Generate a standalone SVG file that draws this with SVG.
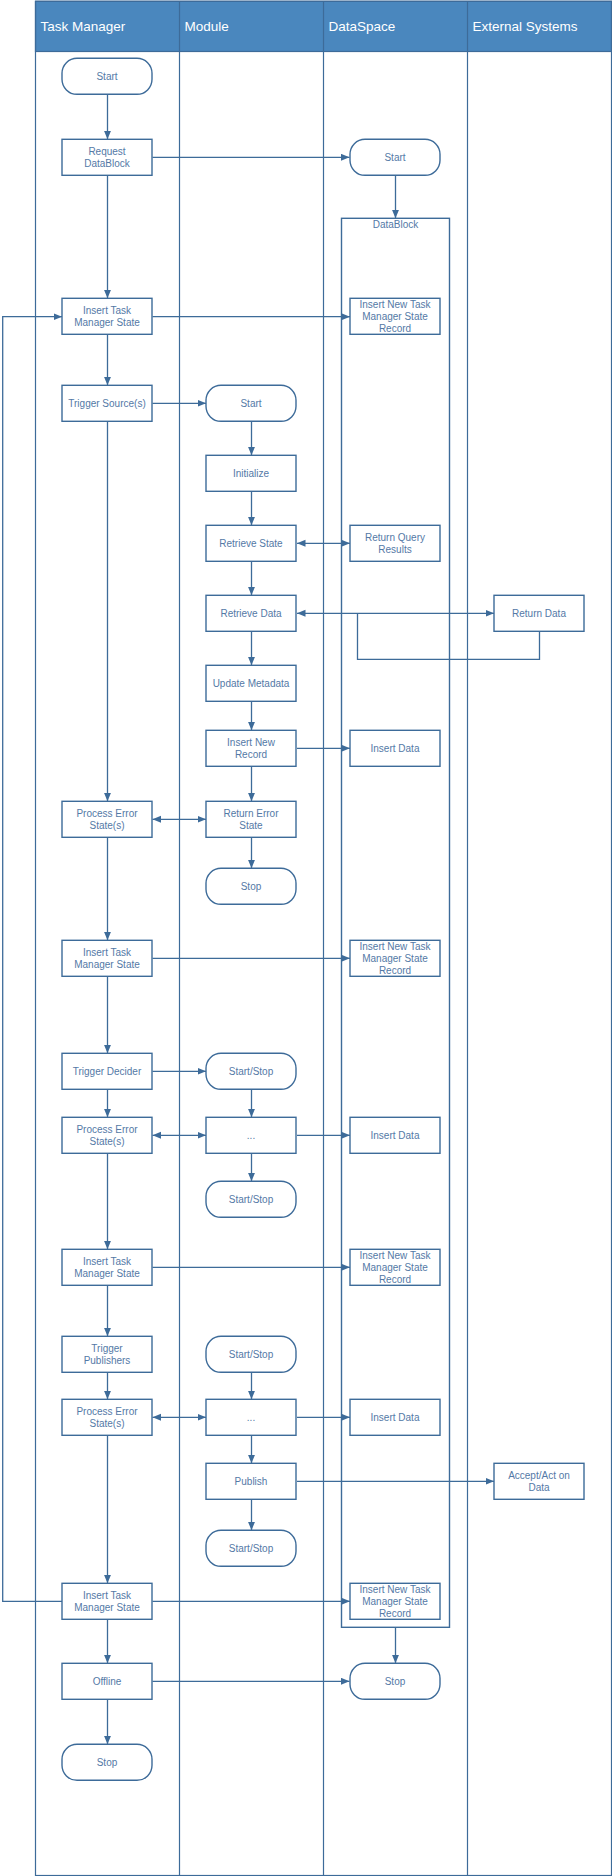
<svg xmlns="http://www.w3.org/2000/svg" width="612" height="1876" viewBox="0 0 612 1876">
<style>
.lane{fill:none;stroke:#3d6b99;stroke-width:1.2}
.hdr{fill:#4a87be;stroke:#3d6b99;stroke-width:1.2}
.ht{font-family:"Liberation Sans",Arial,sans-serif;font-size:13.5px;fill:#ffffff}
.box{fill:#ffffff;stroke:#3d6b99;stroke-width:1.4}
.cont{fill:none;stroke:#3d6b99;stroke-width:1.4}
.t{font-family:"Liberation Sans",Arial,sans-serif;font-size:10px;fill:#5479a6;text-anchor:middle;dominant-baseline:central}
.c{fill:none;stroke:#3d6b99;stroke-width:1.3;marker-end:url(#ah)}
.b{fill:none;stroke:#3d6b99;stroke-width:1.3;marker-end:url(#ah);marker-start:url(#ah)}
.p{fill:none;stroke:#3d6b99;stroke-width:1.3}
</style>
<defs>
<marker id="ah" markerUnits="userSpaceOnUse" markerWidth="9" markerHeight="8" refX="8.5" refY="3.5" orient="auto-start-reverse"><path d="M0,0 L8.5,3.5 L0,7 z" fill="#3d6b99"/></marker>
</defs>
<rect width="612" height="1876" fill="#ffffff"/>
<g id="lanes">
<rect class="hdr" x="35.5" y="1.3" width="576" height="50.2"/>
<rect class="lane" x="35.5" y="1.3" width="576" height="1874.2"/>
<line class="lane" x1="179.5" y1="1.3" x2="179.5" y2="1875.5"/>
<line class="lane" x1="323.5" y1="1.3" x2="323.5" y2="1875.5"/>
<line class="lane" x1="467.5" y1="1.3" x2="467.5" y2="1875.5"/>
<text class="ht" x="40.5" y="31">Task Manager</text>
<text class="ht" x="184.5" y="31">Module</text>
<text class="ht" x="328.5" y="31">DataSpace</text>
<text class="ht" x="472.5" y="31">External Systems</text>
</g>
<g id="datablock">
<rect class="cont" x="341.5" y="218.3" width="108" height="1409"/>
<text class="t" x="395.5" y="224.5">DataBlock</text>
</g>
<g id="connectors">
<path class="c" d="M107.5,94.3 V139.3"/>
<path class="c" d="M107.5,175.3 V298.3"/>
<path class="c" d="M107.5,334.3 V385.3"/>
<path class="c" d="M107.5,421.3 V801.3"/>
<path class="c" d="M107.5,837.3 V940.3"/>
<path class="c" d="M107.5,976.3 V1053.3"/>
<path class="c" d="M107.5,1089.3 V1117.3"/>
<path class="c" d="M107.5,1153.3 V1249.3"/>
<path class="c" d="M107.5,1285.3 V1336.3"/>
<path class="c" d="M107.5,1372.3 V1399.3"/>
<path class="c" d="M107.5,1435.3 V1583.3"/>
<path class="c" d="M107.5,1619.3 V1663.3"/>
<path class="c" d="M107.5,1699.3 V1744.3"/>
<path class="c" d="M251.5,421.3 V455.3"/>
<path class="c" d="M251.5,491.3 V525.3"/>
<path class="c" d="M251.5,561.3 V595.3"/>
<path class="c" d="M251.5,631.3 V665.3"/>
<path class="c" d="M251.5,701.3 V730.3"/>
<path class="c" d="M251.5,766.3 V801.3"/>
<path class="c" d="M251.5,837.3 V868.3"/>
<path class="c" d="M251.5,1089.3 V1117.3"/>
<path class="c" d="M251.5,1153.3 V1181.3"/>
<path class="c" d="M251.5,1372.3 V1399.3"/>
<path class="c" d="M251.5,1435.3 V1463.3"/>
<path class="c" d="M251.5,1499.3 V1530.3"/>
<path class="c" d="M395.5,175.3 V218.3"/>
<path class="c" d="M395.5,1627.3 V1663.3"/>
<path class="c" d="M152.5,157.3 H349.5"/>
<path class="c" d="M152.5,316.7 H350"/>
<path class="c" d="M62,1601.3 H2.7 V316.7 H62"/>
<path class="c" d="M152.5,1601.3 H350"/>
<path class="c" d="M152.5,403.3 H206"/>
<path class="b" d="M297,543.3 H350"/>
<path class="b" d="M297,613.3 H494"/>
<path class="p" d="M539.5,631.3 V659.3 H357.5 V613.3"/>
<path class="c" d="M297,748.3 H350"/>
<path class="b" d="M152.5,819.3 H206"/>
<path class="c" d="M152.5,958.3 H350"/>
<path class="c" d="M152.5,1071.3 H206"/>
<path class="b" d="M152.5,1135.3 H206"/>
<path class="c" d="M297,1135.3 H350"/>
<path class="c" d="M152.5,1267.3 H350"/>
<path class="b" d="M152.5,1417.3 H206"/>
<path class="c" d="M297,1417.3 H350"/>
<path class="c" d="M297,1481.3 H494"/>
<path class="c" d="M152.5,1681.3 H349.5"/>
</g>
<g id="tm-start"><rect class="box" x="62" y="58.3" width="90" height="36" rx="15"/><text class="t" x="107" y="76.3">Start</text></g>
<g id="tm-request"><rect class="box" x="62" y="139.3" width="90" height="36"/><text class="t" x="107" y="151.3">Request</text><text class="t" x="107" y="163.3">DataBlock</text></g>
<g id="tm-insert1"><rect class="box" x="62" y="298.3" width="90" height="36"/><text class="t" x="107" y="310.3">Insert Task</text><text class="t" x="107" y="322.3">Manager State</text></g>
<g id="tm-trigger-sources"><rect class="box" x="62" y="385.3" width="90" height="36"/><text class="t" x="107" y="403.3">Trigger Source(s)</text></g>
<g id="tm-error1"><rect class="box" x="62" y="801.3" width="90" height="36"/><text class="t" x="107" y="813.3">Process Error</text><text class="t" x="107" y="825.3">State(s)</text></g>
<g id="tm-insert2"><rect class="box" x="62" y="940.3" width="90" height="36"/><text class="t" x="107" y="952.3">Insert Task</text><text class="t" x="107" y="964.3">Manager State</text></g>
<g id="tm-trigger-decider"><rect class="box" x="62" y="1053.3" width="90" height="36"/><text class="t" x="107" y="1071.3">Trigger Decider</text></g>
<g id="tm-error2"><rect class="box" x="62" y="1117.3" width="90" height="36"/><text class="t" x="107" y="1129.3">Process Error</text><text class="t" x="107" y="1141.3">State(s)</text></g>
<g id="tm-insert3"><rect class="box" x="62" y="1249.3" width="90" height="36"/><text class="t" x="107" y="1261.3">Insert Task</text><text class="t" x="107" y="1273.3">Manager State</text></g>
<g id="tm-trigger-publishers"><rect class="box" x="62" y="1336.3" width="90" height="36"/><text class="t" x="107" y="1348.3">Trigger</text><text class="t" x="107" y="1360.3">Publishers</text></g>
<g id="tm-error3"><rect class="box" x="62" y="1399.3" width="90" height="36"/><text class="t" x="107" y="1411.3">Process Error</text><text class="t" x="107" y="1423.3">State(s)</text></g>
<g id="tm-insert4"><rect class="box" x="62" y="1583.3" width="90" height="36"/><text class="t" x="107" y="1595.3">Insert Task</text><text class="t" x="107" y="1607.3">Manager State</text></g>
<g id="tm-offline"><rect class="box" x="62" y="1663.3" width="90" height="36"/><text class="t" x="107" y="1681.3">Offline</text></g>
<g id="tm-stop"><rect class="box" x="62" y="1744.3" width="90" height="36" rx="15"/><text class="t" x="107" y="1762.3">Stop</text></g>
<g id="m-start"><rect class="box" x="206" y="385.3" width="90" height="36" rx="15"/><text class="t" x="251" y="403.3">Start</text></g>
<g id="m-init"><rect class="box" x="206" y="455.3" width="90" height="36"/><text class="t" x="251" y="473.3">Initialize</text></g>
<g id="m-retrieve-state"><rect class="box" x="206" y="525.3" width="90" height="36"/><text class="t" x="251" y="543.3">Retrieve State</text></g>
<g id="m-retrieve-data"><rect class="box" x="206" y="595.3" width="90" height="36"/><text class="t" x="251" y="613.3">Retrieve Data</text></g>
<g id="m-update-metadata"><rect class="box" x="206" y="665.3" width="90" height="36"/><text class="t" x="251" y="683.3">Update Metadata</text></g>
<g id="m-insert-record"><rect class="box" x="206" y="730.3" width="90" height="36"/><text class="t" x="251" y="742.3">Insert New</text><text class="t" x="251" y="754.3">Record</text></g>
<g id="m-return-error"><rect class="box" x="206" y="801.3" width="90" height="36"/><text class="t" x="251" y="813.3">Return Error</text><text class="t" x="251" y="825.3">State</text></g>
<g id="m-stop"><rect class="box" x="206" y="868.3" width="90" height="36" rx="15"/><text class="t" x="251" y="886.3">Stop</text></g>
<g id="m-startstop1"><rect class="box" x="206" y="1053.3" width="90" height="36" rx="15"/><text class="t" x="251" y="1071.3">Start/Stop</text></g>
<g id="m-dots1"><rect class="box" x="206" y="1117.3" width="90" height="36"/><text class="t" x="251" y="1135.3">...</text></g>
<g id="m-startstop2"><rect class="box" x="206" y="1181.3" width="90" height="36" rx="15"/><text class="t" x="251" y="1199.3">Start/Stop</text></g>
<g id="m-startstop3"><rect class="box" x="206" y="1336.3" width="90" height="36" rx="15"/><text class="t" x="251" y="1354.3">Start/Stop</text></g>
<g id="m-dots2"><rect class="box" x="206" y="1399.3" width="90" height="36"/><text class="t" x="251" y="1417.3">...</text></g>
<g id="m-publish"><rect class="box" x="206" y="1463.3" width="90" height="36"/><text class="t" x="251" y="1481.3">Publish</text></g>
<g id="m-startstop4"><rect class="box" x="206" y="1530.3" width="90" height="36" rx="15"/><text class="t" x="251" y="1548.3">Start/Stop</text></g>
<g id="ds-start"><rect class="box" x="350" y="139.3" width="90" height="36" rx="15"/><text class="t" x="395" y="157.3">Start</text></g>
<g id="ds-insert1"><rect class="box" x="350" y="298.3" width="90" height="36"/><text class="t" x="395" y="304.3">Insert New Task</text><text class="t" x="395" y="316.3">Manager State</text><text class="t" x="395" y="328.3">Record</text></g>
<g id="ds-query"><rect class="box" x="350" y="525.3" width="90" height="36"/><text class="t" x="395" y="537.3">Return Query</text><text class="t" x="395" y="549.3">Results</text></g>
<g id="ds-insert-data1"><rect class="box" x="350" y="730.3" width="90" height="36"/><text class="t" x="395" y="748.3">Insert Data</text></g>
<g id="ds-insert2"><rect class="box" x="350" y="940.3" width="90" height="36"/><text class="t" x="395" y="946.3">Insert New Task</text><text class="t" x="395" y="958.3">Manager State</text><text class="t" x="395" y="970.3">Record</text></g>
<g id="ds-insert-data2"><rect class="box" x="350" y="1117.3" width="90" height="36"/><text class="t" x="395" y="1135.3">Insert Data</text></g>
<g id="ds-insert3"><rect class="box" x="350" y="1249.3" width="90" height="36"/><text class="t" x="395" y="1255.3">Insert New Task</text><text class="t" x="395" y="1267.3">Manager State</text><text class="t" x="395" y="1279.3">Record</text></g>
<g id="ds-insert-data3"><rect class="box" x="350" y="1399.3" width="90" height="36"/><text class="t" x="395" y="1417.3">Insert Data</text></g>
<g id="ds-insert4"><rect class="box" x="350" y="1583.3" width="90" height="36"/><text class="t" x="395" y="1589.3">Insert New Task</text><text class="t" x="395" y="1601.3">Manager State</text><text class="t" x="395" y="1613.3">Record</text></g>
<g id="ds-stop"><rect class="box" x="350" y="1663.3" width="90" height="36" rx="15"/><text class="t" x="395" y="1681.3">Stop</text></g>
<g id="ext-return-data"><rect class="box" x="494" y="595.3" width="90" height="36"/><text class="t" x="539" y="613.3">Return Data</text></g>
<g id="ext-accept"><rect class="box" x="494" y="1463.3" width="90" height="36"/><text class="t" x="539" y="1475.3">Accept/Act on</text><text class="t" x="539" y="1487.3">Data</text></g>
</svg>
